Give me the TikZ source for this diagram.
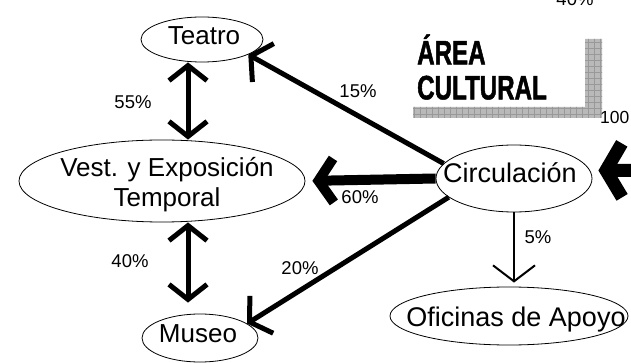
\documentclass[tikz,border=0pt]{standalone}
\usepackage{fontspec}
\setmainfont{Liberation Sans}
\newfontfamily\areafont{Liberation Sans}[FakeStretch=0.71,FakeBold=1.4]
\usetikzlibrary{arrows.meta,shapes.geometric,calc}
\begin{document}
\begin{tikzpicture}[x=1pt,y=-1pt,
  ell/.style={draw, ellipse, line width=0.8pt, inner sep=0pt},
  txt/.style={inner sep=0pt, anchor=base, font=\fontsize{26.5}{30}\selectfont},
  lab/.style={inner sep=0pt, font=\fontsize{18.5}{20}\selectfont},
  dbl/.style={line width=5pt, {Straight Barb[length=15pt,width=38pt]}-{Straight Barb[length=15pt,width=38pt]}},
  arrfive/.style={line width=5pt, -{Straight Barb[length=14pt,width=44pt]}},
  arrten/.style={line width=10pt, -{Straight Barb[length=15pt,width=44pt]}},
  arrthin/.style={line width=2pt, -{Straight Barb[length=16pt,width=42pt]}},
  arrbig/.style={line width=13pt, -{Straight Barb[length=16pt,width=54pt]}},
  hatch/.style={fill=gray!55}
]
\useasboundingbox (0,0) rectangle (631,363);
\clip (0,0) rectangle (631,363);
% hatched L shape
\fill[hatch] (585,39) rectangle (602,118) (413,107) rectangle (602,118);
\begin{scope}
  \clip (585,39) rectangle (602,118) (413,107) rectangle (602,118);
  \draw[gray!80, line width=0.6pt, step=6pt] (410,36) grid (605,121);
\end{scope}
\node[anchor=west, inner sep=0pt, align=left,
  font=\areafont\bfseries\fontsize{34}{35}\selectfont] (area) at (417,67) {ÁREA\\CULTURAL};

% ellipses
\node[ell, minimum width=122pt, minimum height=45pt] (teatro) at (202,39.5) {};
\node[ell, minimum width=286pt, minimum height=82pt] (vest) at (162,181) {};
\node[ell, minimum width=116pt, minimum height=48pt] (museo) at (200,338) {};
\node[ell, minimum width=156pt, minimum height=67pt] (circ) at (514,178.5) {};
\node[ell, minimum width=238pt, minimum height=58pt] (ofic) at (509,316) {};
% ellipse texts
\node[txt, font=\fontsize{26}{30}\selectfont] (teatrot) at (204,45) {Teatro};
\node[txt, font=\fontsize{26}{30}\selectfont] (vestt) at (167,177) {Vest. y Exposición};
\node[txt, font=\fontsize{26}{30}\selectfont] (vestt2) at (167,207) {Temporal};
\node[txt, font=\fontsize{26}{30}\selectfont] (museot) at (198,342) {Museo};
\node[txt, font=\fontsize{27}{30}\selectfont] (circt) at (510,183) {Circulación};
\node[txt, font=\fontsize{27}{30}\selectfont] (ofict) at (516,326) {Oficinas de Apoyo};
\coordinate (rin) at (680,170);

% connectors
\draw[dbl] ([xshift=-14pt]teatro.south) -- ([xshift=26pt]vest.north);
\draw[dbl, shorten >=11pt] ([xshift=26pt]vest.south) -- ([xshift=-12pt]museo.north);
\draw[arrfive] (circ.168) -- (teatro.-18);
\draw[arrten, shorten >=7pt] (circ.west) -- (vest.east);
\draw[arrfive] (circ.196) -- (museo.17);
\draw[arrthin, shorten >=4pt] (circ.south) -- (circ.south |- ofic.north);
\draw[arrbig] (rin) -- ([xshift=6pt,yshift=8pt]circ.east);

% labels
\node[lab] (l55) at (133,102) {55\%};
\node[lab] (l40a) at (130,261) {40\%};
\node[lab] (l15) at (358,91) {15\%};
\node[lab] (l60) at (360,197) {60\%};
\node[lab] (l20) at (300,268) {20\%};
\node[lab] (l5) at (538,237) {5\%};
\node[lab, anchor=west, font=\fontsize{17.5}{20}\selectfont] (l100) at (600,117) {100};
\node[lab, anchor=base] (l40b) at (575,6) {40\%};
\end{tikzpicture}
\end{document}
